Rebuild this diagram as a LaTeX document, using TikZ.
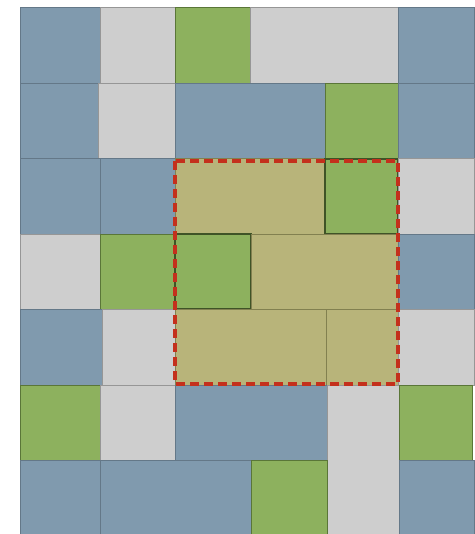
\documentclass[tikz,border=0pt]{standalone}
\usepackage{tikz}
\definecolor{tblue}{RGB}{128,154,174}
\definecolor{tblueL}{RGB}{100,120,136}
\definecolor{tgray}{RGB}{206,206,206}
\definecolor{tgrayL}{RGB}{150,150,150}
\definecolor{tgreen}{RGB}{141,177,94}
\definecolor{tgreenL}{RGB}{90,118,56}
\definecolor{tolive}{RGB}{184,180,122}
\definecolor{toliveL}{RGB}{130,128,80}
\definecolor{tred}{RGB}{196,48,28}
\tikzset{
  blu/.style={fill=tblue,draw=tblueL,line width=1pt},
  gry/.style={fill=tgray,draw=tgrayL,line width=1pt},
  grn/.style={fill=tgreen,draw=tgreenL,line width=1pt},
  grnH/.style={fill=tgreen,draw=tgreenL!70!black,line width=1.6pt},
  olv/.style={fill=tolive,draw=toliveL,line width=1pt},
  hilite/.style={draw=tred,line width=3.6pt,dash pattern=on 9pt off 5pt}
}
\begin{document}
\begin{tikzpicture}[x=1pt,y=-1pt]
\useasboundingbox (0,0) rectangle (474,534);
\fill[white] (0,0) rectangle (474,534);
% row 1
\draw[blu] (20,8) rectangle (100,84);
\draw[gry] (100,8) rectangle (175,84);
\draw[grn] (175,8) rectangle (250,84);
\draw[gry] (250,8) rectangle (398,84);
\draw[blu] (398,8) rectangle (474,84);
% row 2
\draw[blu] (20,84) rectangle (98,159);
\draw[gry] (98,84) rectangle (175,159);
\draw[blu] (175,84) rectangle (325,159);
\draw[grn] (325,84) rectangle (398,159);
\draw[blu] (398,84) rectangle (474,159);
% row 3
\draw[blu] (20,159) rectangle (100,234);
\draw[blu] (100,159) rectangle (175,234);
\draw[olv] (175,159) rectangle (325,234);
\draw[grnH] (325,159) rectangle (398,234);
\draw[gry] (398,159) rectangle (474,234);
% row 4
\draw[gry] (20,234) rectangle (100,309);
\draw[grn] (100,234) rectangle (175,309);
\draw[grnH] (175,234) rectangle (251,309);
\draw[olv] (251,234) rectangle (398,309);
\draw[blu] (398,234) rectangle (474,309);
% row 5
\draw[blu] (20,309) rectangle (102,385);
\draw[gry] (102,309) rectangle (175,385);
\draw[olv] (175,309) rectangle (326,385);
\draw[olv] (326,309) rectangle (398,385);
\draw[gry] (398,309) rectangle (474,385);
% row 6
\draw[grn] (20,385) rectangle (100,460);
\draw[gry] (100,385) rectangle (175,460);
\draw[blu] (175,385) rectangle (327,460);
\draw[gry] (327,385) rectangle (399,534);
\draw[grn] (399,385) rectangle (472,460);
% row 7
\draw[blu] (20,460) rectangle (100,534);
\draw[blu] (100,460) rectangle (251,534);
\draw[grn] (251,460) rectangle (327,534);
\draw[blu] (399,460) rectangle (474,534);
% highlight
\draw[hilite] (175,161) rectangle (398,384);
\end{tikzpicture}
\end{document}
